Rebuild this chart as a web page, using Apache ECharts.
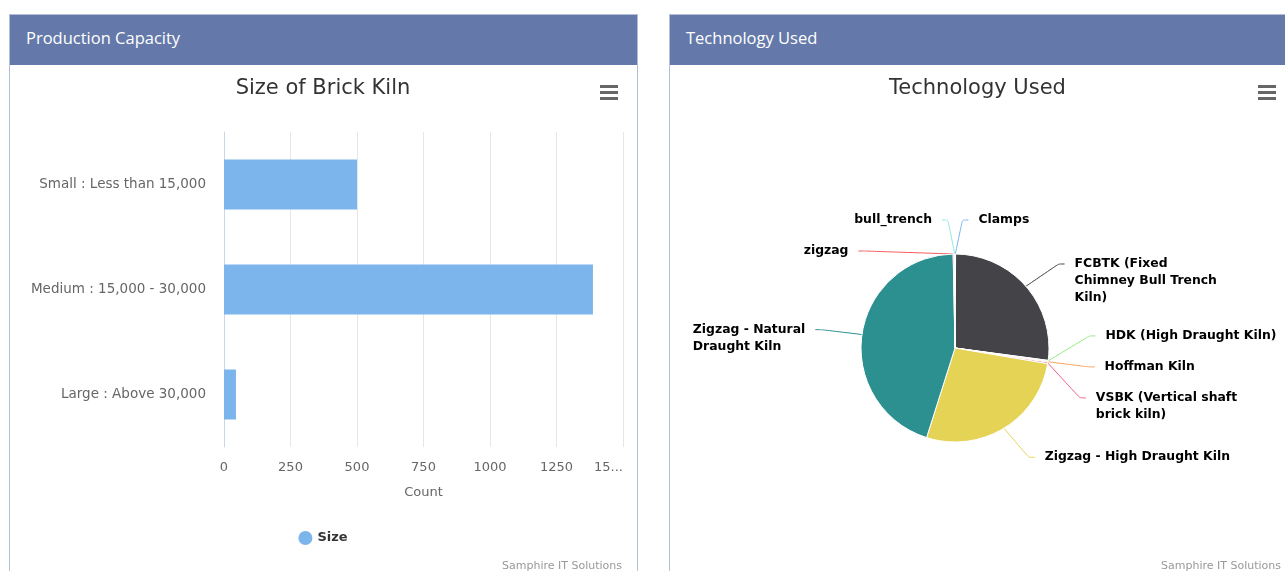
<!DOCTYPE html>
<html>
<head>
<meta charset="utf-8">
<script src="https://cdn.jsdelivr.net/npm/echarts@6/dist/echarts.min.js"></script>
<style>
  body { margin:0; width:1285px; height:571px; background:#fff; overflow:hidden; font-family:"Open Sans", sans-serif; }
  .panel { position:absolute; top:14px; height:600px; border:1px solid #b4bedb; background:#fff; }
  .panel .head { height:50px; line-height:46px; background:#6479a9; color:#fff; font-size:16.5px; padding-left:16px; }
  #p1 { left:9px; width:627px; }
  #p2 { left:669px; width:640px; }
  #c1 { position:absolute; left:10px; top:65px; width:626px; height:506px; }
  #c2 { position:absolute; left:670px; top:65px; width:615px; height:506px; }
</style>
</head>
<body>
<div class="panel" id="p1"><div class="head">Production Capacity</div></div>
<div class="panel" id="p2"><div class="head">Technology Used</div></div>
<div id="c1"></div>
<div id="c2"></div>
<script>
// bar chart data
var sizeCategories = ['Small : Less than 15,000', 'Medium : 15,000 - 30,000', 'Large : Above 30,000'];
var sizeCounts = [500, 1387, 45];
var countMax = 1500, countStep = 250;

// pie chart data (clockwise from top)
var techNames = ['Clamps', 'FCBTK (Fixed\nChimney Bull Trench\nKiln)', 'HDK (High Draught Kiln)', 'Hoffman Kiln',
  'VSBK (Vertical shaft\nbrick kiln)', 'Zigzag - High Draught Kiln', 'Zigzag - Natural\nDraught Kiln', 'zigzag', 'bull_trench'];
var techCounts = [2, 522, 3, 3, 5, 526, 866, 4, 2];
var techColors = ['#7cb5ec', '#434348', '#90ed7d', '#f7a35c', '#f15c80', '#e4d354', '#2b908f', '#f45b5b', '#91e8e1'];

var font = 'DejaVu Sans';

function menuIcon(x) {
  return {
    type: 'group', left: x, top: 20,
    children: [0, 6, 12].map(function (dy) {
      return { type: 'rect', shape: { x: 0, y: dy, width: 18, height: 3 }, style: { fill: '#666' } };
    })
  };
}

var bar = echarts.init(document.getElementById('c1'));
bar.setOption({
  animation: false,
  title: [
    { text: 'Size of Brick Kiln', left: 'center', top: 13, padding: 0,
      textStyle: { fontFamily: font, fontSize: 21, fontWeight: 'normal', color: '#333' } },
    { text: 'Samphire IT Solutions', right: 14, bottom: -1, padding: 0,
      textStyle: { fontFamily: font, fontSize: 11, fontWeight: 'normal', color: '#999' } }
  ],
  graphic: [menuIcon(590)],
  legend: {
    left: 'center', top: 461, icon: 'circle', itemWidth: 14, itemHeight: 14,
    textStyle: { fontFamily: font, fontSize: 13, fontWeight: 'bold', color: '#333' }
  },
  grid: { left: 214, top: 67, width: 399, height: 315, outerBoundsMode: 'none' },
  xAxis: {
    type: 'value', min: 0, max: countMax, interval: countStep,
    name: 'Count', nameLocation: 'middle', nameGap: 39,
    nameTextStyle: { fontFamily: font, fontSize: 13, color: '#666' },
    axisLine: { show: false }, axisTick: { show: false },
    axisLabel: { fontFamily: font, fontSize: 13, color: '#666', margin: 14, alignMaxLabel: 'right',
      formatter: function (v) { return v === countMax ? String(v).slice(0, 2) + '...' : v; } },
    splitLine: { lineStyle: { color: '#e6e6e6' } }
  },
  yAxis: {
    type: 'category', data: sizeCategories, inverse: true,
    axisLine: { lineStyle: { color: '#ccd6eb' } }, axisTick: { show: false },
    axisLabel: { fontFamily: font, fontSize: 13.5, color: '#666', margin: 18 }
  },
  series: [{
    name: 'Size', type: 'bar', data: sizeCounts, barWidth: 50,
    itemStyle: { color: '#7cb5ec' }
  }]
});

// pie labels: spread on each side like the original, keeping slice order
var pieCx = 285, pieCy = 283, pieR = 94, labelDist = 34, textGap = 23, lineH = 17;

function place(g, minY) {
  var off = 0, sum = 0;
  g.items.forEach(function (it) { it.off = off; sum += it.y0 - off; off += it.slot; });
  g.size = off;
  g.top = Math.max(sum / g.items.length, minY);
}

function pieLabelSpots() {
  var total = techCounts.reduce(function (a, b) { return a + b; }, 0);
  var R = pieR + labelDist, acc = 0, spots = [];
  var items = techCounts.map(function (v, i) {
    var a = (acc + v / 2) / total * 2 * Math.PI;
    acc += v;
    return { i: i, a: a, right: Math.sin(a) >= 0, y0: pieCy - R * Math.cos(a),
      slot: techNames[i].split('\n').length * lineH + 14 };
  });
  [true, false].forEach(function (side) {
    var groups = [];
    items.filter(function (it) { return it.right === side; })
      .sort(function (p, q) { return p.y0 - q.y0; })
      .forEach(function (it) {
        var g = { items: [it] };
        place(g, pieCy - R);
        groups.push(g);
        while (groups.length > 1) {
          var last = groups[groups.length - 1], prev = groups[groups.length - 2];
          if (prev.top + prev.size <= last.top) break;
          prev.items = prev.items.concat(last.items);
          groups.pop();
          place(prev, pieCy - R);
        }
      });
    groups.forEach(function (g) {
      g.items.forEach(function (it) {
        var y = g.top + it.off, dy = y - pieCy;
        var dx = Math.sqrt(Math.max(R * R - dy * dy, 0));
        var sgn = side ? 1 : -1;
        spots[it.i] = { a: it.a, right: side, y: y, tx: pieCx + sgn * (dx + textGap) };
      });
    });
  });
  return spots;
}
var spots = pieLabelSpots();

var pie = echarts.init(document.getElementById('c2'));
pie.setOption({
  animation: false,
  title: [
    { text: 'Technology Used', left: 'center', top: 13, padding: 0,
      textStyle: { fontFamily: font, fontSize: 21, fontWeight: 'normal', color: '#333' } },
    { text: 'Samphire IT Solutions', right: 4, bottom: -1, padding: 0,
      textStyle: { fontFamily: font, fontSize: 11, fontWeight: 'normal', color: '#999' } }
  ],
  graphic: [menuIcon(588)],
  series: [{
    type: 'pie', center: [pieCx, pieCy], radius: pieR, startAngle: 90, clockwise: true,
    avoidLabelOverlap: false,
    data: techNames.map(function (n, i) {
      return { name: n, value: techCounts[i], itemStyle: { color: techColors[i] } };
    }),
    itemStyle: { borderColor: '#fff', borderWidth: 1 },
    label: { fontFamily: font, fontSize: 12.4, fontWeight: 'bold', color: '#000', lineHeight: lineH },
    labelLine: { length: 18, length2: 18, smooth: 0.2, lineStyle: { width: 1 } },
    labelLayout: function (p) {
      var s = spots[p.dataIndex];
      var ex = pieCx + pieR * Math.sin(s.a), ey = pieCy - pieR * Math.cos(s.a);
      var sgn = s.right ? 1 : -1;
      var endX = s.tx - sgn * 10;
      return {
        x: s.right ? s.tx : s.tx - p.labelRect.width,
        y: s.y - lineH / 2,
        align: 'left', verticalAlign: 'top',
        labelLinePoints: [[ex, ey], [endX - sgn * 6, s.y], [endX, s.y]]
      };
    }
  }]
});
</script>
</body>
</html>
